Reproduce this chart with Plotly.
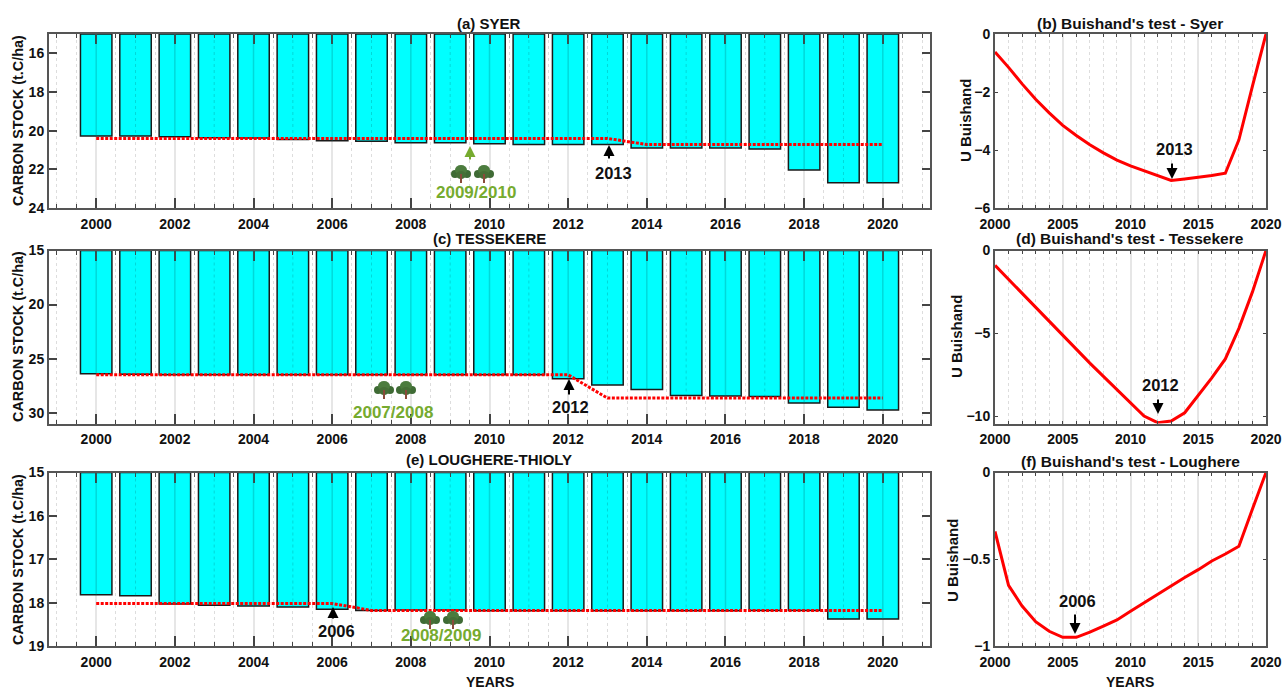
import plotly.graph_objects as go

W, H = 1283, 689
FONT = "Liberation Sans"

# ---------- data ----------
years = list(range(2000, 2021))

syer_stock = [20.27, 20.27, 20.32, 20.36, 20.38, 20.46, 20.52, 20.55, 20.63, 20.63, 20.68,
              20.72, 20.72, 20.72, 20.90, 20.90, 20.90, 20.95, 22.03, 22.70, 22.70]
syer_trend = [20.40] * 14 + [20.72] * 7

tess_stock = [26.40, 26.45, 26.48, 26.50, 26.50, 26.50, 26.50, 26.50, 26.50, 26.50, 26.50,
              26.50, 26.85, 27.45, 27.85, 28.40, 28.45, 28.50, 29.10, 29.50, 29.75]
tess_trend = [26.50] * 13 + [28.65] * 8

loug_stock = [17.82, 17.84, 18.03, 18.06, 18.08, 18.10, 18.15, 18.18, 18.17, 18.17, 18.19,
              18.19, 18.19, 18.19, 18.19, 18.19, 18.19, 18.18, 18.18, 18.38, 18.38]
loug_trend = [18.02] * 7 + [18.18] * 14

syer_u = [-0.62, -1.15, -1.72, -2.25, -2.72, -3.15, -3.50, -3.82, -4.10, -4.35, -4.55,
          -4.72, -4.90, -5.05, -5.00, -4.95, -4.88, -4.80, -3.65, -1.80, 0.0]
tess_u = [-0.90, -1.75, -2.60, -3.45, -4.25, -5.10, -5.95, -6.80, -7.60, -8.40, -9.20,
          -10.0, -10.4, -10.3, -9.80, -8.75, -7.70, -6.55, -4.70, -2.50, 0.0]
loug_u = [-0.34, -0.65, -0.77, -0.86, -0.915, -0.95, -0.95, -0.92, -0.885, -0.85, -0.80,
          -0.75, -0.70, -0.65, -0.605, -0.56, -0.51, -0.47, -0.425, -0.21, 0.0]

left_titles = ["(a) SYER", "(c) TESSEKERE", "(e) LOUGHERE-THIOLY"]
right_titles = ["(b) Buishand's test - Syer", "(d) Buishand's test - Tessekere", "(f) Buishand's test - Loughere"]
stock_label = "CARBON STOCK (t.C/ha)"
u_label = "U Buishand"
x_label = "YEARS"


# ---------- helpers ----------
def px(x, y):
    return x / W, 1 - y / H


LEFT_X = (49, 930)
RIGHT_X = (995, 1266)
ROWS = [(34, 208), (250.5, 423.5), (472.5, 646)]
BASE = 15

fig = go.Figure()
layout = {}
shapes = []
annotations = []


def text(x, y, s, size=14, color="#111", angle=0):
    a, b = px(x, y)
    annotations.append(dict(xref="paper", yref="paper", x=a, y=b, text=s, showarrow=False,
                            xanchor="center", yanchor="middle", textangle=angle,
                            font=dict(family=FONT, size=size, color=color, weight=700)))


def arrow(x, tail, tip, color="black"):
    a, b = px(x, tip)
    annotations.append(dict(xref="paper", yref="paper", x=a, y=b, ax=0, ay=tail - tip, text="",
                            showarrow=True, arrowhead=2, arrowsize=1.1, arrowwidth=2, arrowcolor=color))


def tree(cx, cy):
    """Small tree pictogram; (cx, cy) = centre in page pixels."""
    def shp(kind, x0, y0, x1, y1, col):
        a0, b0 = px(cx + x0, cy + y0)
        a1, b1 = px(cx + x1, cy + y1)
        shapes.append(dict(type=kind, xref="paper", yref="paper", x0=a0, x1=a1, y0=b0, y1=b1,
                           fillcolor=col, line=dict(width=0), layer="above"))
    for x0, y0, x1, y1, c in [(-10, -4, -2, 4, "#3f6b35"), (2, -4, 10, 4, "#3f6b35"),
                              (-6, -9, 6, 1, "#4c7c3e"), (-5, -3, 5, 5, "#466f37")]:
        shp("circle", x0, y0, x1, y1, c)
    shp("rect", -1, 0, 1, 9, "#8a4a3a")


def dom(rng, vertical=False):
    if vertical:
        return [1 - rng[1] / H, 1 - rng[0] / H]
    return [rng[0] / W, rng[1] / W]


def axis_common():
    return dict(showline=True, linecolor="#555", linewidth=2, mirror="ticks", zeroline=False,
                tickcolor="#444", layer="above traces",
                tickfont=dict(family=FONT, size=14, color="#111", weight=700))


def add_left(idx, row, stock, trend, yrange, ytick0, ydtick):
    ax = 2 * idx + 1
    xa, ya = f"x{ax}", f"y{ax}"
    fig.add_bar(x=years, y=[v - BASE for v in stock], base=[BASE] * len(stock), width=0.8,
                marker=dict(color="#00ffff", line=dict(color="#1a1a1a", width=1.5)),
                xaxis=xa, yaxis=ya, showlegend=False)
    fig.add_scatter(x=years, y=trend, mode="lines",
                    line=dict(color="#ff0000", width=3, dash="3px,1.5px"),
                    xaxis=xa, yaxis=ya, showlegend=False)
    layout[f"xaxis{ax}"] = dict(domain=dom(LEFT_X), range=[1998.8, 2021.2], anchor=ya,
                                tick0=2000, dtick=2, ticks="inside", ticklen=10, tickwidth=1.5,
                                ticklabelstandoff=2,
                                showgrid=True, gridcolor="#e6e6e6", gridwidth=2,
                                minor=dict(dtick=0.5, tick0=2000, ticks="inside", ticklen=4, tickwidth=1.2,
                                           tickcolor="#444", showgrid=True, gridcolor="#dddddd",
                                           griddash="dot", gridwidth=1),
                                **axis_common())
    layout[f"yaxis{ax}"] = dict(domain=dom(row, True), range=yrange, anchor=xa,
                                tick0=ytick0, dtick=ydtick, ticks="inside", ticklen=8, tickwidth=1.5,
                                showgrid=False, **axis_common())
    # grid faintly visible through the bars
    for y, v in zip(years, stock):
        shapes.append(dict(type="line", xref=xa, yref=ya, x0=y, x1=y, y0=BASE, y1=v, layer="above",
                           line=dict(color="rgba(0,130,130,0.30)", width=1.5 if y % 2 == 0 else 1,
                                     dash="solid" if y % 2 == 0 else "dot")))


def add_right(idx, row, u, yrange, ytick0, ydtick):
    ax = 2 * idx + 2
    xa, ya = f"x{ax}", f"y{ax}"
    fig.add_scatter(x=years, y=u, mode="lines", line=dict(color="#ff0000", width=3),
                    xaxis=xa, yaxis=ya, showlegend=False, cliponaxis=False)
    layout[f"xaxis{ax}"] = dict(domain=dom(RIGHT_X), range=[2000, 2020], anchor=ya,
                                tick0=2000, dtick=5, ticks="inside", ticklen=3, tickwidth=1.2,
                                ticklabelstandoff=2,
                                showgrid=True, gridcolor="#e6e6e6", gridwidth=2,
                                minor=dict(dtick=1, tick0=2000, ticks="inside", ticklen=3, tickwidth=1,
                                           tickcolor="#444", showgrid=True, gridcolor="#dddddd",
                                           griddash="dot", gridwidth=1),
                                **axis_common())
    layout[f"yaxis{ax}"] = dict(domain=dom(row, True), range=yrange, anchor=xa,
                                tick0=ytick0, dtick=ydtick, ticks="inside", ticklen=3, tickwidth=1.2,
                                showgrid=False, **axis_common())


add_left(0, ROWS[0], syer_stock, syer_trend, [24, 15], 16, 2)
add_left(1, ROWS[1], tess_stock, tess_trend, [31, 15], 15, 5)
add_left(2, ROWS[2], loug_stock, loug_trend, [19, 15], 15, 1)
add_right(0, ROWS[0], syer_u, [-6, 0], 0, 2)
add_right(1, ROWS[1], tess_u, [-10.45, 0], 0, 5)
add_right(2, ROWS[2], loug_u, [-1, 0], 0, 0.5)

# titles
for t, y in zip(left_titles, (24, 238, 459)):
    text(489, y, t, 15)
for t, y in zip(right_titles, (24, 239, 461)):
    text(1130, y, t, 15.5)

# axis labels
for y in (121, 337, 560):
    text(18, y, stock_label, 14.4, angle=-90)
for x, y in zip((965, 957, 952), (121, 337, 560)):
    text(x, y, u_label, 15, angle=-90)
text(490, 682, x_label, 14)
text(1130, 682, x_label, 14)

# change-point markers, left panels
GREEN = "#76ab2f"
arrow(609, 160, 145); text(613, 173, "2013", 16.5)
arrow(569, 396, 379); text(570, 407, "2012", 16.5)
arrow(333, 620, 607); text(336, 631, "2006", 16.5)
arrow(470, 161, 146, GREEN)
text(476, 192, "2009/2010", 17, GREEN)
text(393, 412, "2007/2008", 17, GREEN)
text(441, 635, "2008/2009", 17, GREEN)
for c in [(461, 174), (484, 174), (384, 390), (406, 390), (430, 620), (453, 620)]:
    tree(*c)

# change-point markers, right panels
arrow(1172, 162, 179); text(1174, 149, "2013", 16.5)
arrow(1158, 398, 414); text(1160, 385, "2012", 16.5)
arrow(1075, 613, 634); text(1077, 601, "2006", 16.5)

fig.update_layout(width=W, height=H, margin=dict(l=0, r=0, t=0, b=0, autoexpand=False), autosize=False,
                  paper_bgcolor="white", plot_bgcolor="white", barmode="overlay",
                  shapes=shapes, annotations=annotations, showlegend=False, **layout)

fig.write_html("out.html", config=dict(displayModeBar=False),
               post_script="document.body.style.margin='0';document.documentElement.style.overflow='hidden';")
